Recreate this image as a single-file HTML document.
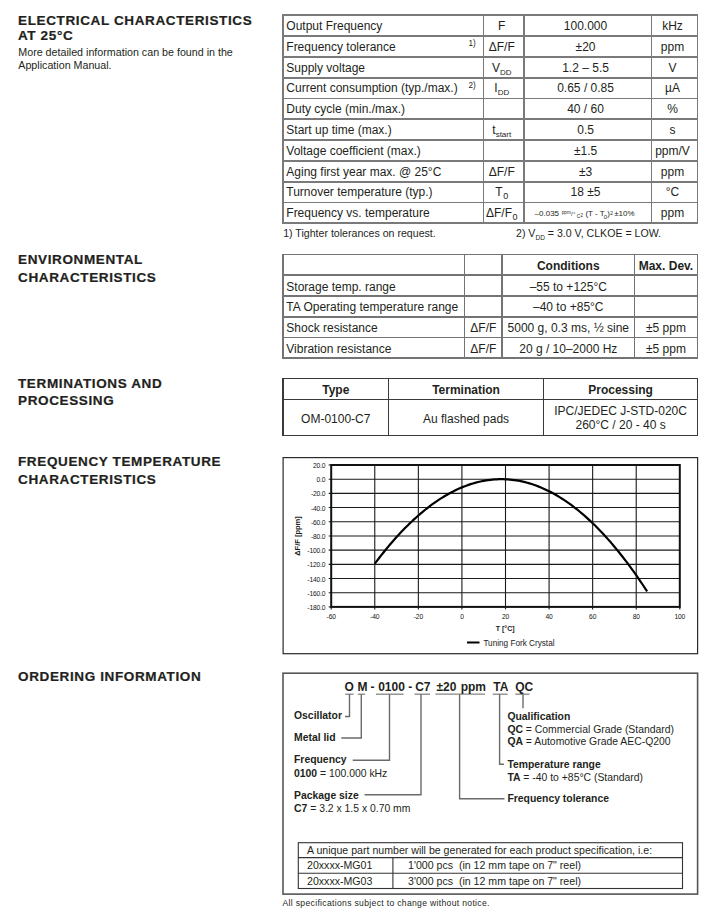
<!DOCTYPE html>
<html><head><meta charset="utf-8"><style>
html,body{margin:0;padding:0;background:#fff;}
body{width:709px;height:917px;position:relative;overflow:hidden;font-family:"Liberation Sans",sans-serif;color:#231f20;}
.t{position:absolute;white-space:nowrap;line-height:1;}
.l{position:absolute;}
.sub{font-size:8px;vertical-align:-3px;}
.sub0{font-size:9px;vertical-align:-2.6px;margin-left:0.5px;}
svg text{font-family:"Liberation Sans",sans-serif;}
</style></head><body>
<div class="t" style="left:18.20px;top:15.42px;font-size:12.5px;font-weight:bold;letter-spacing:0.58px;-webkit-text-stroke:0.2px #231f20;transform:scaleX(1.08);transform-origin:0 0;">ELECTRICAL CHARACTERISTICS</div>
<div class="t" style="left:18.20px;top:30.22px;font-size:12.5px;font-weight:bold;letter-spacing:0.58px;-webkit-text-stroke:0.2px #231f20;transform:scaleX(1.08);transform-origin:0 0;">AT 25°C</div>
<div class="t" style="left:18.30px;top:47.14px;font-size:10.7px;">More detailed information can be found in the</div>
<div class="t" style="left:18.30px;top:60.04px;font-size:10.7px;">Application Manual.</div>
<div class="t" style="left:18.20px;top:253.92px;font-size:12.5px;font-weight:bold;letter-spacing:0.58px;-webkit-text-stroke:0.2px #231f20;transform:scaleX(1.08);transform-origin:0 0;">ENVIRONMENTAL</div>
<div class="t" style="left:18.20px;top:271.72px;font-size:12.5px;font-weight:bold;letter-spacing:0.58px;-webkit-text-stroke:0.2px #231f20;transform:scaleX(1.08);transform-origin:0 0;">CHARACTERISTICS</div>
<div class="t" style="left:18.20px;top:377.62px;font-size:12.5px;font-weight:bold;letter-spacing:0.58px;-webkit-text-stroke:0.2px #231f20;transform:scaleX(1.08);transform-origin:0 0;">TERMINATIONS AND</div>
<div class="t" style="left:18.20px;top:395.02px;font-size:12.5px;font-weight:bold;letter-spacing:0.58px;-webkit-text-stroke:0.2px #231f20;transform:scaleX(1.08);transform-origin:0 0;">PROCESSING</div>
<div class="t" style="left:18.20px;top:456.42px;font-size:12.5px;font-weight:bold;letter-spacing:0.58px;-webkit-text-stroke:0.2px #231f20;transform:scaleX(1.08);transform-origin:0 0;">FREQUENCY TEMPERATURE</div>
<div class="t" style="left:18.20px;top:474.42px;font-size:12.5px;font-weight:bold;letter-spacing:0.58px;-webkit-text-stroke:0.2px #231f20;transform:scaleX(1.08);transform-origin:0 0;">CHARACTERISTICS</div>
<div class="t" style="left:18.20px;top:671.22px;font-size:12.5px;font-weight:bold;letter-spacing:0.58px;-webkit-text-stroke:0.2px #231f20;transform:scaleX(1.08);transform-origin:0 0;">ORDERING INFORMATION</div>
<div class="l" style="left:282.10px;top:14.40px;width:416.30px;height:1.80px;background:#7a7a7a"></div>
<div class="l" style="left:282.10px;top:35.20px;width:416.30px;height:1.80px;background:#7a7a7a"></div>
<div class="l" style="left:282.10px;top:56.00px;width:416.30px;height:1.80px;background:#7a7a7a"></div>
<div class="l" style="left:282.10px;top:76.80px;width:416.30px;height:1.80px;background:#7a7a7a"></div>
<div class="l" style="left:282.10px;top:97.60px;width:416.30px;height:1.80px;background:#7a7a7a"></div>
<div class="l" style="left:282.10px;top:118.40px;width:416.30px;height:1.80px;background:#7a7a7a"></div>
<div class="l" style="left:282.10px;top:139.20px;width:416.30px;height:1.80px;background:#7a7a7a"></div>
<div class="l" style="left:282.10px;top:160.00px;width:416.30px;height:1.80px;background:#7a7a7a"></div>
<div class="l" style="left:282.10px;top:180.80px;width:416.30px;height:1.80px;background:#7a7a7a"></div>
<div class="l" style="left:282.10px;top:201.60px;width:416.30px;height:1.80px;background:#7a7a7a"></div>
<div class="l" style="left:282.10px;top:222.40px;width:416.30px;height:1.80px;background:#7a7a7a"></div>
<div class="l" style="left:282.10px;top:14.40px;width:1.80px;height:209.80px;background:#7a7a7a"></div>
<div class="l" style="left:482.60px;top:14.40px;width:1.80px;height:209.80px;background:#7a7a7a"></div>
<div class="l" style="left:523.10px;top:14.40px;width:1.80px;height:209.80px;background:#7a7a7a"></div>
<div class="l" style="left:650.60px;top:14.40px;width:1.80px;height:209.80px;background:#7a7a7a"></div>
<div class="l" style="left:696.60px;top:14.40px;width:1.80px;height:209.80px;background:#7a7a7a"></div>
<div class="t" style="left:286.30px;top:19.94px;font-size:12px;">Output Frequency</div>
<div class="t" style="left:481.50px;top:19.94px;font-size:12px;width:40.50px;text-align:center;">F</div>
<div class="t" style="left:521.80px;top:19.94px;font-size:12px;width:127.50px;text-align:center;">100.000</div>
<div class="t" style="left:649.50px;top:19.94px;font-size:12px;width:46.00px;text-align:center;">kHz</div>
<div class="t" style="left:286.30px;top:40.74px;font-size:12px;">Frequency tolerance</div>
<div class="t" style="left:468.40px;top:40.36px;font-size:8.2px;">1)</div>
<div class="t" style="left:481.50px;top:40.74px;font-size:12px;width:40.50px;text-align:center;">&Delta;F/F</div>
<div class="t" style="left:521.80px;top:40.74px;font-size:12px;width:127.50px;text-align:center;">±20</div>
<div class="t" style="left:649.50px;top:40.74px;font-size:12px;width:46.00px;text-align:center;">ppm</div>
<div class="t" style="left:286.30px;top:61.54px;font-size:12px;">Supply voltage</div>
<div class="t" style="left:481.50px;top:61.54px;font-size:12px;width:40.50px;text-align:center;">V<span class="sub">DD</span></div>
<div class="t" style="left:521.80px;top:61.54px;font-size:12px;width:127.50px;text-align:center;">1.2 – 5.5</div>
<div class="t" style="left:649.50px;top:61.54px;font-size:12px;width:46.00px;text-align:center;">V</div>
<div class="t" style="left:286.30px;top:82.34px;font-size:12px;">Current consumption (typ./max.)</div>
<div class="t" style="left:468.40px;top:81.96px;font-size:8.2px;">2)</div>
<div class="t" style="left:481.50px;top:82.34px;font-size:12px;width:40.50px;text-align:center;">I<span class="sub">DD</span></div>
<div class="t" style="left:521.80px;top:82.34px;font-size:12px;width:127.50px;text-align:center;">0.65 / 0.85</div>
<div class="t" style="left:649.50px;top:82.34px;font-size:12px;width:46.00px;text-align:center;">µA</div>
<div class="t" style="left:286.30px;top:103.14px;font-size:12px;">Duty cycle (min./max.)</div>
<div class="t" style="left:521.80px;top:103.14px;font-size:12px;width:127.50px;text-align:center;">40 / 60</div>
<div class="t" style="left:649.50px;top:103.14px;font-size:12px;width:46.00px;text-align:center;">%</div>
<div class="t" style="left:286.30px;top:123.94px;font-size:12px;">Start up time (max.)</div>
<div class="t" style="left:481.50px;top:123.94px;font-size:12px;width:40.50px;text-align:center;">t<span class="sub">start</span></div>
<div class="t" style="left:521.80px;top:123.94px;font-size:12px;width:127.50px;text-align:center;">0.5</div>
<div class="t" style="left:649.50px;top:123.94px;font-size:12px;width:46.00px;text-align:center;">s</div>
<div class="t" style="left:286.30px;top:144.74px;font-size:12px;">Voltage coefficient (max.)</div>
<div class="t" style="left:521.80px;top:144.74px;font-size:12px;width:127.50px;text-align:center;">±1.5</div>
<div class="t" style="left:649.50px;top:144.74px;font-size:12px;width:46.00px;text-align:center;">ppm/V</div>
<div class="t" style="left:286.30px;top:165.54px;font-size:12px;">Aging first year max. @ 25°C</div>
<div class="t" style="left:481.50px;top:165.54px;font-size:12px;width:40.50px;text-align:center;">&Delta;F/F</div>
<div class="t" style="left:521.80px;top:165.54px;font-size:12px;width:127.50px;text-align:center;">±3</div>
<div class="t" style="left:649.50px;top:165.54px;font-size:12px;width:46.00px;text-align:center;">ppm</div>
<div class="t" style="left:286.30px;top:186.34px;font-size:12px;">Turnover temperature (typ.)</div>
<div class="t" style="left:481.50px;top:186.34px;font-size:12px;width:40.50px;text-align:center;">T<span class="sub0">0</span></div>
<div class="t" style="left:521.80px;top:186.34px;font-size:12px;width:127.50px;text-align:center;">18 ±5</div>
<div class="t" style="left:649.50px;top:186.34px;font-size:12px;width:46.00px;text-align:center;">°C</div>
<div class="t" style="left:286.30px;top:207.14px;font-size:12px;">Frequency vs. temperature</div>
<div class="t" style="left:481.50px;top:207.14px;font-size:12px;width:40.50px;text-align:center;">&Delta;F/F<span class="sub0">0</span></div>
<div class="t" style="left:649.50px;top:207.14px;font-size:12px;width:46.00px;text-align:center;">ppm</div>
<div class="t" style="left:534.60px;top:210.23px;font-size:8px;">–0.035</div>
<div class="t" style="left:561.80px;top:210.91px;font-size:4.6px;">ppm</div>
<div class="t" style="left:571.00px;top:211.12px;font-size:6px;">/</div>
<div class="t" style="left:573.20px;top:211.77px;font-size:5px;">°</div>
<div class="t" style="left:576.80px;top:213.97px;font-size:5px;">C</div>
<div class="t" style="left:580.40px;top:213.59px;font-size:4.5px;">2</div>
<div class="t" style="left:585.40px;top:210.23px;font-size:8px;">(T - T</div>
<div class="t" style="left:603.80px;top:213.62px;font-size:6px;">0</div>
<div class="t" style="left:607.20px;top:210.23px;font-size:8px;">)</div>
<div class="t" style="left:610.20px;top:210.57px;font-size:5px;">2</div>
<div class="t" style="left:614.20px;top:210.23px;font-size:8px;">±10%</div>
<div class="t" style="left:283.20px;top:228.23px;font-size:10.6px;">1) Tighter tolerances on request.</div>
<div class="t" style="left:516.00px;top:228.23px;font-size:10.6px;">2) V<span style="font-size:6.5px;vertical-align:-2.5px">DD</span> = 3.0 V, CLKOE = LOW.</div>
<div class="l" style="left:282.10px;top:253.60px;width:416.30px;height:1.80px;background:#747474"></div>
<div class="l" style="left:282.10px;top:274.36px;width:416.30px;height:1.80px;background:#747474"></div>
<div class="l" style="left:282.10px;top:295.12px;width:416.30px;height:1.80px;background:#747474"></div>
<div class="l" style="left:282.10px;top:315.88px;width:416.30px;height:1.80px;background:#747474"></div>
<div class="l" style="left:282.10px;top:336.64px;width:416.30px;height:1.80px;background:#747474"></div>
<div class="l" style="left:282.10px;top:357.40px;width:416.30px;height:1.80px;background:#747474"></div>
<div class="l" style="left:282.10px;top:253.60px;width:1.80px;height:105.60px;background:#747474"></div>
<div class="l" style="left:463.60px;top:253.60px;width:1.80px;height:105.60px;background:#747474"></div>
<div class="l" style="left:501.30px;top:253.60px;width:1.80px;height:105.60px;background:#747474"></div>
<div class="l" style="left:633.50px;top:253.60px;width:1.80px;height:105.60px;background:#747474"></div>
<div class="l" style="left:696.60px;top:253.60px;width:1.80px;height:105.60px;background:#747474"></div>
<div class="t" style="left:502.20px;top:259.84px;font-size:12px;width:132.20px;text-align:center;"><b>Conditions</b></div>
<div class="t" style="left:634.40px;top:259.84px;font-size:12px;width:63.10px;text-align:center;"><b>Max. Dev.</b></div>
<div class="t" style="left:286.30px;top:280.60px;font-size:12px;">Storage temp. range</div>
<div class="t" style="left:502.20px;top:280.60px;font-size:12px;width:132.20px;text-align:center;">–55 to +125°C</div>
<div class="t" style="left:286.30px;top:301.36px;font-size:12px;">TA Operating temperature range</div>
<div class="t" style="left:502.20px;top:301.36px;font-size:12px;width:132.20px;text-align:center;">–40 to +85°C</div>
<div class="t" style="left:286.30px;top:322.12px;font-size:12px;">Shock resistance</div>
<div class="t" style="left:464.50px;top:322.12px;font-size:12px;width:37.70px;text-align:center;">&Delta;F/F</div>
<div class="t" style="left:502.20px;top:322.12px;font-size:12px;width:132.20px;text-align:center;">5000 g, 0.3 ms, ½ sine</div>
<div class="t" style="left:634.40px;top:322.12px;font-size:12px;width:63.10px;text-align:center;">±5 ppm</div>
<div class="t" style="left:286.30px;top:342.88px;font-size:12px;">Vibration resistance</div>
<div class="t" style="left:464.50px;top:342.88px;font-size:12px;width:37.70px;text-align:center;">&Delta;F/F</div>
<div class="t" style="left:502.20px;top:342.88px;font-size:12px;width:132.20px;text-align:center;">20 g / 10–2000 Hz</div>
<div class="t" style="left:634.40px;top:342.88px;font-size:12px;width:63.10px;text-align:center;">±5 ppm</div>
<div class="l" style="left:282.40px;top:377.70px;width:415.80px;height:1.20px;background:#3a3a3a"></div>
<div class="l" style="left:282.40px;top:398.70px;width:415.80px;height:1.20px;background:#3a3a3a"></div>
<div class="l" style="left:282.40px;top:434.70px;width:415.80px;height:1.20px;background:#3a3a3a"></div>
<div class="l" style="left:282.40px;top:377.70px;width:1.20px;height:58.20px;background:#3a3a3a"></div>
<div class="l" style="left:387.90px;top:377.70px;width:1.20px;height:58.20px;background:#3a3a3a"></div>
<div class="l" style="left:543.00px;top:377.70px;width:1.20px;height:58.20px;background:#3a3a3a"></div>
<div class="l" style="left:697.00px;top:377.70px;width:1.20px;height:58.20px;background:#3a3a3a"></div>
<div class="t" style="left:283.00px;top:384.14px;font-size:12px;font-weight:bold;width:105.50px;text-align:center;">Type</div>
<div class="t" style="left:388.50px;top:384.14px;font-size:12px;font-weight:bold;width:155.10px;text-align:center;">Termination</div>
<div class="t" style="left:543.60px;top:384.14px;font-size:12px;font-weight:bold;width:154.00px;text-align:center;">Processing</div>
<div class="t" style="left:283.00px;top:412.54px;font-size:12px;width:105.50px;text-align:center;">OM-0100-C7</div>
<div class="t" style="left:388.50px;top:412.54px;font-size:12px;width:155.10px;text-align:center;">Au flashed pads</div>
<div class="t" style="left:543.60px;top:405.14px;font-size:12px;width:154.00px;text-align:center;">IPC/JEDEC J-STD-020C</div>
<div class="t" style="left:543.60px;top:419.14px;font-size:12px;width:154.00px;text-align:center;">260°C / 20 - 40 s</div>
<svg class="svg" width="709" height="917" viewBox="0 0 709 917" style="position:absolute;left:0;top:0">
<rect x="283.1" y="457.6" width="414.5" height="196.1" fill="none" stroke="#2a2a2a" stroke-width="1.2"/>
<line x1="328.7" y1="479.19" x2="679.8" y2="479.19" stroke="#1a1a1a" stroke-width="1.1"/>
<line x1="328.7" y1="493.38" x2="679.8" y2="493.38" stroke="#1a1a1a" stroke-width="1.1"/>
<line x1="328.7" y1="507.57" x2="679.8" y2="507.57" stroke="#1a1a1a" stroke-width="1.1"/>
<line x1="328.7" y1="521.76" x2="679.8" y2="521.76" stroke="#1a1a1a" stroke-width="1.1"/>
<line x1="328.7" y1="535.95" x2="679.8" y2="535.95" stroke="#1a1a1a" stroke-width="1.1"/>
<line x1="328.7" y1="550.14" x2="679.8" y2="550.14" stroke="#1a1a1a" stroke-width="1.1"/>
<line x1="328.7" y1="564.33" x2="679.8" y2="564.33" stroke="#1a1a1a" stroke-width="1.1"/>
<line x1="328.7" y1="578.52" x2="679.8" y2="578.52" stroke="#1a1a1a" stroke-width="1.1"/>
<line x1="328.7" y1="592.71" x2="679.8" y2="592.71" stroke="#1a1a1a" stroke-width="1.1"/>
<line x1="374.77" y1="465.0" x2="374.77" y2="609.4" stroke="#1a1a1a" stroke-width="1.1"/>
<line x1="418.35" y1="465.0" x2="418.35" y2="609.4" stroke="#1a1a1a" stroke-width="1.1"/>
<line x1="461.92" y1="465.0" x2="461.92" y2="609.4" stroke="#1a1a1a" stroke-width="1.1"/>
<line x1="505.50" y1="465.0" x2="505.50" y2="609.4" stroke="#1a1a1a" stroke-width="1.1"/>
<line x1="549.08" y1="465.0" x2="549.08" y2="609.4" stroke="#1a1a1a" stroke-width="1.1"/>
<line x1="592.65" y1="465.0" x2="592.65" y2="609.4" stroke="#1a1a1a" stroke-width="1.1"/>
<line x1="636.22" y1="465.0" x2="636.22" y2="609.4" stroke="#1a1a1a" stroke-width="1.1"/>
<line x1="328.7" y1="465.0" x2="331.2" y2="465.0" stroke="#111" stroke-width="1.1"/>
<line x1="328.7" y1="606.9" x2="331.2" y2="606.9" stroke="#111" stroke-width="1.1"/>
<line x1="331.2" y1="606.9" x2="331.2" y2="609.4" stroke="#111" stroke-width="1.1"/>
<line x1="679.8" y1="606.9" x2="679.8" y2="609.4" stroke="#111" stroke-width="1.1"/>
<rect x="331.2" y="465.0" width="348.59999999999997" height="141.89999999999998" fill="none" stroke="#111" stroke-width="2"/>
<polyline points="374.77,563.68 376.95,560.79 379.13,557.96 381.31,555.17 383.49,552.44 385.67,549.75 387.85,547.12 390.03,544.54 392.20,542.00 394.38,539.52 396.56,537.09 398.74,534.70 400.92,532.37 403.10,530.09 405.28,527.85 407.46,525.67 409.63,523.54 411.81,521.46 413.99,519.42 416.17,517.44 418.35,515.51 420.53,513.63 422.71,511.79 424.89,510.01 427.06,508.28 429.24,506.60 431.42,504.96 433.60,503.38 435.78,501.85 437.96,500.37 440.14,498.94 442.32,497.56 444.50,496.23 446.67,494.94 448.85,493.71 451.03,492.53 453.21,491.40 455.39,490.32 457.57,489.29 459.75,488.31 461.92,487.38 464.10,486.50 466.28,485.67 468.46,484.89 470.64,484.16 472.82,483.47 475.00,482.84 477.18,482.26 479.36,481.73 481.53,481.25 483.71,480.83 485.89,480.45 488.07,480.12 490.25,479.84 492.43,479.61 494.61,479.43 496.78,479.30 498.96,479.22 501.14,479.19 503.32,479.21 505.50,479.28 507.68,479.40 509.86,479.57 512.04,479.80 514.21,480.07 516.39,480.39 518.57,480.76 520.75,481.18 522.93,481.65 525.11,482.18 527.29,482.75 529.47,483.37 531.64,484.04 533.82,484.77 536.00,485.54 538.18,486.36 540.36,487.23 542.54,488.16 544.72,489.13 546.90,490.15 549.08,491.22 551.25,492.35 553.43,493.52 555.61,494.74 557.79,496.02 559.97,497.34 562.15,498.71 564.33,500.14 566.50,501.61 568.68,503.13 570.86,504.71 573.04,506.33 575.22,508.01 577.40,509.73 579.58,511.50 581.76,513.33 583.93,515.20 586.11,517.13 588.29,519.10 590.47,521.13 592.65,523.20 594.83,525.33 597.01,527.50 599.19,529.73 601.37,532.00 603.54,534.33 605.72,536.70 607.90,539.13 610.08,541.60 612.26,544.13 614.44,546.70 616.62,549.33 618.79,552.01 620.97,554.73 623.15,557.51 625.33,560.33 627.51,563.21 629.69,566.14 631.87,569.11 634.05,572.14 636.22,575.22 638.40,578.34 640.58,581.52 642.76,584.75 644.94,588.02 647.12,591.35" fill="none" stroke="#000" stroke-width="2.2" stroke-linejoin="round"/>
<text x="325.4" y="468.00" text-anchor="end" font-size="6.7" fill="#111" letter-spacing="-0.15">20.0</text>
<text x="325.4" y="482.19" text-anchor="end" font-size="6.7" fill="#111" letter-spacing="-0.15">0.0</text>
<text x="325.4" y="496.38" text-anchor="end" font-size="6.7" fill="#111" letter-spacing="-0.15">-20.0</text>
<text x="325.4" y="510.57" text-anchor="end" font-size="6.7" fill="#111" letter-spacing="-0.15">-40.0</text>
<text x="325.4" y="524.76" text-anchor="end" font-size="6.7" fill="#111" letter-spacing="-0.15">-60.0</text>
<text x="325.4" y="538.95" text-anchor="end" font-size="6.7" fill="#111" letter-spacing="-0.15">-80.0</text>
<text x="325.4" y="553.14" text-anchor="end" font-size="6.7" fill="#111" letter-spacing="-0.15">-100.0</text>
<text x="325.4" y="567.33" text-anchor="end" font-size="6.7" fill="#111" letter-spacing="-0.15">-120.0</text>
<text x="325.4" y="581.52" text-anchor="end" font-size="6.7" fill="#111" letter-spacing="-0.15">-140.0</text>
<text x="325.4" y="595.71" text-anchor="end" font-size="6.7" fill="#111" letter-spacing="-0.15">-160.0</text>
<text x="325.4" y="609.90" text-anchor="end" font-size="6.7" fill="#111" letter-spacing="-0.15">-180.0</text>
<text x="331.20" y="619.2" text-anchor="middle" font-size="6.7" fill="#111" letter-spacing="-0.15">-60</text>
<text x="374.77" y="619.2" text-anchor="middle" font-size="6.7" fill="#111" letter-spacing="-0.15">-40</text>
<text x="418.35" y="619.2" text-anchor="middle" font-size="6.7" fill="#111" letter-spacing="-0.15">-20</text>
<text x="461.92" y="619.2" text-anchor="middle" font-size="6.7" fill="#111" letter-spacing="-0.15">0</text>
<text x="505.50" y="619.2" text-anchor="middle" font-size="6.7" fill="#111" letter-spacing="-0.15">20</text>
<text x="549.08" y="619.2" text-anchor="middle" font-size="6.7" fill="#111" letter-spacing="-0.15">40</text>
<text x="592.65" y="619.2" text-anchor="middle" font-size="6.7" fill="#111" letter-spacing="-0.15">60</text>
<text x="636.22" y="619.2" text-anchor="middle" font-size="6.7" fill="#111" letter-spacing="-0.15">80</text>
<text x="679.80" y="619.2" text-anchor="middle" font-size="6.7" fill="#111" letter-spacing="-0.15">100</text>
<text x="505.2" y="631.3" text-anchor="middle" font-size="7" font-weight="bold" fill="#1a1a1a">T [°C]</text>
<text transform="translate(300.4,536) rotate(-90)" text-anchor="middle" font-size="7.5" font-weight="bold" fill="#1a1a1a">&#916;F/F [ppm]</text>
<line x1="467" y1="642.5" x2="479.5" y2="642.5" stroke="#000" stroke-width="2"/>
<text x="483.4" y="645.6" font-size="8.2" fill="#1a1a1a">Tuning Fork Crystal</text>
</svg>
<svg width="709" height="917" viewBox="0 0 709 917" style="position:absolute;left:0;top:0">
<rect x="283" y="673.2" width="414.6" height="220.9" fill="none" stroke="#555" stroke-width="1.6"/>
<polyline points="345.2,694.2 353.6,694.2" fill="none" stroke="#858585" stroke-width="1.3"/>
<polyline points="357.8,694.2 365.2,694.2" fill="none" stroke="#858585" stroke-width="1.3"/>
<polyline points="375.9,694.2 403.5,694.2" fill="none" stroke="#858585" stroke-width="1.3"/>
<polyline points="414.5,694.2 430.0,694.2" fill="none" stroke="#858585" stroke-width="1.3"/>
<polyline points="435.4,694.2 485.0,694.2" fill="none" stroke="#858585" stroke-width="1.3"/>
<polyline points="492.8,694.2 507.6,694.2" fill="none" stroke="#858585" stroke-width="1.3"/>
<polyline points="515.3,694.2 529.5,694.2" fill="none" stroke="#858585" stroke-width="1.3"/>
<polyline points="349.5,694.2 349.5,716.5 345.0,716.5" fill="none" stroke="#6a6a6a" stroke-width="1.4"/>
<polyline points="361.3,694.2 361.3,738.0 341.3,738.0" fill="none" stroke="#6a6a6a" stroke-width="1.4"/>
<polyline points="389.5,694.2 389.5,760.3 352.7,760.3" fill="none" stroke="#6a6a6a" stroke-width="1.4"/>
<polyline points="421.0,694.2 421.0,794.8 364.6,794.8" fill="none" stroke="#6a6a6a" stroke-width="1.4"/>
<polyline points="459.6,694.2 459.6,798.8 504.5,798.8" fill="none" stroke="#6a6a6a" stroke-width="1.4"/>
<polyline points="499.6,694.2 499.6,764.3 503.9,764.3" fill="none" stroke="#6a6a6a" stroke-width="1.4"/>
<polyline points="523.0,694.2 523.0,708.2" fill="none" stroke="#6a6a6a" stroke-width="1.4"/>
<rect x="298.3" y="842.7" width="384.2" height="45.8" fill="none" stroke="#333" stroke-width="1.1"/>
<line x1="298.3" y1="857.6" x2="682.5" y2="857.6" stroke="#333" stroke-width="1.1"/>
<line x1="298.3" y1="873.3" x2="682.5" y2="873.3" stroke="#333" stroke-width="1.1"/>
<line x1="392.9" y1="857.6" x2="392.9" y2="888.5" stroke="#333" stroke-width="1.1"/>
</svg>
<div class="t" style="left:344.40px;top:681.24px;font-size:12px;font-weight:bold;">O</div>
<div class="t" style="left:357.60px;top:681.24px;font-size:12px;font-weight:bold;">M</div>
<div class="t" style="left:370.60px;top:681.24px;font-size:12px;font-weight:bold;">-</div>
<div class="t" style="left:378.20px;top:681.24px;font-size:12px;font-weight:bold;">0100</div>
<div class="t" style="left:408.20px;top:681.24px;font-size:12px;font-weight:bold;">-</div>
<div class="t" style="left:415.20px;top:681.24px;font-size:12px;font-weight:bold;">C7</div>
<div class="t" style="left:436.50px;top:681.24px;font-size:12px;font-weight:bold;">±20</div>
<div class="t" style="left:460.70px;top:681.24px;font-size:12px;font-weight:bold;">ppm</div>
<div class="t" style="left:493.20px;top:681.24px;font-size:12px;font-weight:bold;">TA</div>
<div class="t" style="left:515.20px;top:681.24px;font-size:12px;font-weight:bold;">QC</div>
<div class="t" style="left:294.00px;top:711.20px;font-size:10.4px;font-weight:bold;">Oscillator</div>
<div class="t" style="left:294.00px;top:733.20px;font-size:10.4px;font-weight:bold;">Metal lid</div>
<div class="t" style="left:294.00px;top:755.20px;font-size:10.4px;font-weight:bold;">Frequency</div>
<div class="t" style="left:294.00px;top:769.20px;font-size:10.4px;"><b>0100</b> = 100.000 kHz</div>
<div class="t" style="left:294.00px;top:790.80px;font-size:10.4px;font-weight:bold;">Package size</div>
<div class="t" style="left:294.00px;top:804.30px;font-size:10.4px;"><b>C7</b> = 3.2 x 1.5 x 0.70 mm</div>
<div class="t" style="left:507.40px;top:711.50px;font-size:10.4px;font-weight:bold;">Qualification</div>
<div class="t" style="left:507.40px;top:725.40px;font-size:10.4px;"><b>QC</b> = Commercial Grade (Standard)</div>
<div class="t" style="left:507.40px;top:736.50px;font-size:10.4px;"><b>QA</b> = Automotive Grade AEC-Q200</div>
<div class="t" style="left:507.40px;top:759.80px;font-size:10.4px;font-weight:bold;">Temperature range</div>
<div class="t" style="left:507.40px;top:773.20px;font-size:10.4px;"><b>TA</b> = -40 to +85°C (Standard)</div>
<div class="t" style="left:507.40px;top:794.20px;font-size:10.4px;font-weight:bold;">Frequency tolerance</div>
<div class="t" style="left:307.00px;top:844.93px;font-size:10.6px;">A unique part number will be generated for each product specification, i.e:</div>
<div class="t" style="left:307.00px;top:860.03px;font-size:10.6px;">20xxxx-MG01</div>
<div class="t" style="left:307.00px;top:875.93px;font-size:10.6px;">20xxxx-MG03</div>
<div class="t" style="left:408.00px;top:860.03px;font-size:10.6px;">1'000 pcs&nbsp; (in 12 mm tape on 7" reel)</div>
<div class="t" style="left:408.00px;top:875.93px;font-size:10.6px;">3'000 pcs&nbsp; (in 12 mm tape on 7" reel)</div>
<div class="t" style="left:282.50px;top:899.22px;font-size:8.6px;letter-spacing:0.32px;">All specifications subject to change without notice.</div>
</body></html>
